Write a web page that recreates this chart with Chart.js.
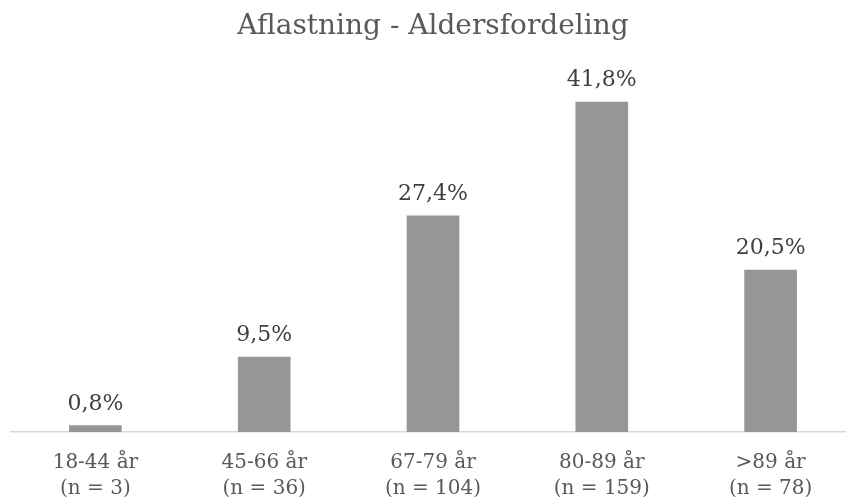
<!DOCTYPE html>
<html>
<head>
<meta charset="utf-8">
<script src="https://cdn.jsdelivr.net/npm/chart.js@4/dist/chart.umd.min.js"></script>
<style>
    html, body { margin: 0; padding: 0; background: #ffffff; overflow: hidden; }
    #ramme { width: 846px; height: 497px; overflow: hidden; position: relative; }
    #beholder { width: 866px; height: 520px; position: absolute; left: 0; top: 0; }
</style>
</head>
<body>
<div id="ramme">
    <div id="beholder"><canvas id="aldersGraf"></canvas></div>
</div>
<script>
// Data
const titel = "Aflastning - Aldersfordeling";
const aldersgrupper = [
    ["18-44 år", "(n = 3)"],
    ["45-66 år", "(n = 36)"],
    ["67-79 år", "(n = 104)"],
    ["80-89 år", "(n = 159)"],
    [">89 år", "(n = 78)"]
];
const andele = [0.8, 9.5, 27.4, 41.8, 20.5];

const skrift = "'DejaVu Serif', 'Liberation Serif', serif";

// Lille plugin der skriver procenten over hver søjle
const procentEtiketter = {
    id: "procentEtiketter",
    afterDatasetsDraw(chart) {
        const ctx = chart.ctx;
        const meta = chart.getDatasetMeta(0);
        ctx.save();
        ctx.fillStyle = "#404040";
        ctx.font = "22px " + skrift;
        ctx.textAlign = "center";
        ctx.textBaseline = "alphabetic";
        meta.data.forEach((bar, i) => {
            const tekst = andele[i].toFixed(1).replace(".", ",") + "%";
            ctx.fillText(tekst, bar.x, bar.y - 16);
        });
        ctx.restore();
    }
};

const ctx = document.getElementById("aldersGraf").getContext("2d");
new Chart(ctx, {
    type: "bar",
    data: {
        labels: aldersgrupper,
        datasets: [{
            data: andele,
            backgroundColor: "#969696",
            borderWidth: 0,
            barThickness: 52
        }]
    },
    options: {
        responsive: true,
        maintainAspectRatio: false,
        animation: false,
        layout: { padding: { left: 11, right: 11, top: 0, bottom: 0 } },
        plugins: {
            legend: { display: false },
            tooltip: { enabled: false },
            title: {
                display: true,
                text: titel,
                color: "#595959",
                font: { family: skrift, size: 28, weight: "normal" },
                padding: { top: 10, bottom: 19 }
            }
        },
        scales: {
            x: {
                grid: { display: false, drawTicks: false },
                border: { display: true, color: "#d9d9d9", width: 1.5 },
                ticks: {
                    color: "#595959",
                    padding: 18,
                    maxRotation: 0,
                    autoSkip: false,
                    font: { family: skrift, size: 20, lineHeight: 1.3 }
                }
            },
            y: {
                display: false,
                min: 0,
                max: 46.8
            }
        }
    },
    plugins: [procentEtiketter]
});
</script>
</body>
</html>
